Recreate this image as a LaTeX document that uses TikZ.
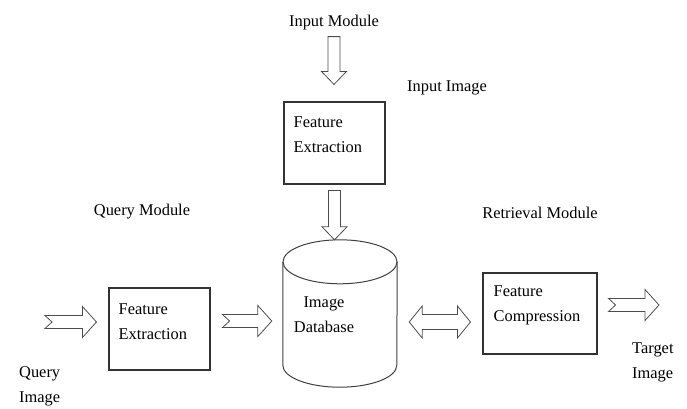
\documentclass[tikz,border=0pt]{standalone}
\usepackage{fontspec}
\setmainfont{Liberation Serif}
\usepackage{tikz}
\usetikzlibrary{calc,positioning}

\begin{document}
\begin{tikzpicture}[x=1pt,y=1pt,
      txt/.style={inner sep=0pt,font=\fontsize{16.4}{25}\selectfont},
      box text/.style={txt,anchor=west,align=left},
      box/.style={draw=black!80,line width=1.1pt,inner sep=0pt,
        minimum width=101pt,minimum height=82pt},
      db body/.style={inner sep=0pt,minimum width=114pt,minimum height=147pt},
      db line/.style={draw=black!75,line width=1pt},
      down arrow/.style={draw=black!70,line width=0.8pt,to path={
        let \p1=(\tikztostart), \p2=(\tikztotarget) in
        (\x1-6pt,\y1) -- (\x1-6pt,\y2+13pt) -- (\x1-12.5pt,\y2+13pt) -- (\x1,\y2)
        -- (\x1+12.5pt,\y2+13pt) -- (\x1+6pt,\y2+13pt) -- (\x1+6pt,\y1) -- cycle}},
      right arrow/.style={draw=black!70,line width=0.8pt,to path={
        let \p1=(\tikztostart), \p2=(\tikztotarget) in
        (\x1,\y1+6.5pt) -- (\x2-14pt,\y1+6.5pt) -- (\x2-14pt,\y1+15.5pt) -- (\x2,\y1)
        -- (\x2-14pt,\y1-15.5pt) -- (\x2-14pt,\y1-6.5pt) -- (\x1,\y1-6.5pt)
        -- (\x1+7pt,\y1) -- cycle}},
      both arrow/.style={draw=black!70,line width=0.8pt,to path={
        let \p1=(\tikztostart), \p2=(\tikztotarget) in
        (\x1,\y1) -- (\x1+13pt,\y1+16pt) -- (\x1+13pt,\y1+7.5pt) -- (\x2-13pt,\y1+7.5pt)
        -- (\x2-13pt,\y1+16pt) -- (\x2,\y1) -- (\x2-13pt,\y1-16pt) -- (\x2-13pt,\y1-7.5pt)
        -- (\x1+13pt,\y1-7.5pt) -- (\x1+13pt,\y1-16pt) -- cycle}}]

      \useasboundingbox (0,0) rectangle (687,-408);

      \node[box] (fe1) at (334.5,-143) {};
      \node[db body] (db) at (340,-313.5) {};
      \node[box] (qfe) at (159.5,-329) {};
      \node[box,minimum width=114pt,minimum height=81pt] (fce) at (540,-313.5) {};

      \node[box text] (fe1t) at ([xshift=10pt,yshift=8pt]fe1.west) {Feature\\Extraction};
      \node[box text] (qfet) at ([xshift=10pt,yshift=7pt]qfe.west) {Feature\\Extraction};
      \node[box text] (fcet) at ([xshift=11pt,yshift=8pt]fce.west) {Feature\\Compression};
      \node[txt,align=center] (dbt) at ([xshift=-16pt,yshift=-1.5pt]db.center) {Image\\Database};

      \node[txt] (inmod) at (334,-23) {Input Module};
      \node[txt,anchor=west] (inimg) at (407,-88) {Input Image};
      \node[txt] (qmod) at (142,-212) {Query Module};
      \node[txt] (rmod) at (540,-213) {Retrieval Module};
      \node[txt,anchor=west,align=left] (qimg) at (19,-386.5) {Query\\Image};
      \node[txt,anchor=west,align=left] (timg) at (632,-362.5) {Target\\Image};

      \coordinate (qin) at (45,-322);
      \coordinate (tout) at (659,-305);

      \draw[db line] ([yshift=-22pt]db.north west) -- ([yshift=22pt]db.south west)
        arc[start angle=180,end angle=360,x radius=57pt,y radius=22pt]
        -- ([yshift=-22pt]db.north east);
      \draw[db line] ([yshift=-22pt]db.north) ellipse[x radius=57pt,y radius=22pt];

      \draw[down arrow] ([yshift=-6pt]inmod.south) to ([yshift=17pt]fe1.north);
      \draw[down arrow] ([yshift=-6pt]fe1.south) to (db.north);
      \draw[right arrow] (qin) to ([xshift=-12pt]qfe.west);
      \draw[right arrow] ([xshift=12pt,yshift=8pt]qfe.east) to ([xshift=-11pt]db.west);
      \draw[both arrow] ([xshift=12pt,yshift=-8.5pt]db.east) to ([xshift=-12pt]fce.west);
      \draw[right arrow] ([xshift=11pt,yshift=8.5pt]fce.east) to (tout);
    \end{tikzpicture}
\end{document}
